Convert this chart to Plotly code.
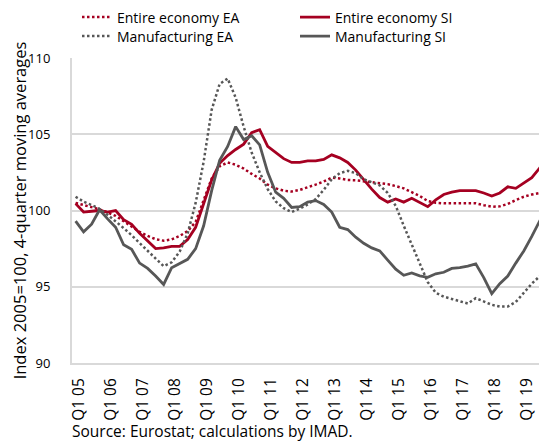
import plotly.graph_objects as go

# Quarterly categories Q1 2005 .. Q4 2019
years = list(range(2005, 2020))
quarters = [f"Q{q} {y % 100:02d}" for y in years for q in (1, 2, 3, 4)]
tick_labels = [f"Q1 {y % 100:02d}" for y in years]

entire_ea = [100.5, 100.35, 100.25, 100.08, 99.86, 99.65, 99.3, 98.95, 98.6, 98.33,
             98.12, 98.02, 98.1, 98.33, 98.65, 99.25, 100.7, 102.1, 102.9, 103.15,
             103.0, 102.75, 102.4, 102.1, 101.7, 101.45, 101.3, 101.24, 101.35, 101.5,
             101.7, 101.9, 102.15, 102.1, 102.0, 101.98, 101.92, 101.88, 101.82, 101.73,
             101.6, 101.45, 101.2, 100.95, 100.62, 100.5, 100.47, 100.47, 100.5, 100.5,
             100.47, 100.35, 100.25, 100.27, 100.43, 100.68, 100.9, 101.05, 101.17, 101.25]

entire_si = [100.45, 99.9, 99.95, 100.0, 99.9, 100.0, 99.4, 99.1, 98.5, 98.0,
             97.5, 97.55, 97.65, 97.65, 98.1, 98.9, 100.5, 102.0, 103.1, 103.6,
             104.0, 104.35, 105.1, 105.3, 104.2, 103.8, 103.4, 103.15, 103.15, 103.25,
             103.25, 103.35, 103.65, 103.45, 103.15, 102.65, 102.0, 101.4, 100.85, 100.55,
             100.75, 100.55, 100.8, 100.55, 100.25, 100.7, 101.05, 101.2, 101.3, 101.3,
             101.3, 101.15, 100.95, 101.15, 101.55, 101.45, 101.8, 102.15, 102.8, 103.4]

manuf_ea = [100.9, 100.58, 100.36, 100.1, 99.72, 99.3, 98.85, 98.38, 97.85, 97.32,
            96.85, 96.35, 96.6, 97.3, 98.5, 100.5, 103.2, 106.6, 108.3, 108.65,
            107.4, 105.5, 103.8, 102.5, 101.4, 100.6, 100.15, 99.9, 100.12, 100.4,
            100.75, 101.35, 102.05, 102.45, 102.6, 102.45, 102.05, 101.85, 101.65, 101.15,
            100.3, 99.0, 97.8, 96.6, 95.3, 94.6, 94.35, 94.2, 94.05, 93.9,
            94.25, 94.05, 93.82, 93.7, 93.7, 94.0, 94.6, 95.2, 95.7, 96.15]

manuf_si = [99.3, 98.6, 99.1, 100.05, 99.45, 98.9, 97.75, 97.45, 96.55, 96.2,
            95.7, 95.15, 96.25, 96.5, 96.8, 97.5, 99.0, 101.3, 103.3, 104.2,
            105.5, 104.65, 104.9, 104.3, 102.5, 101.2, 100.8, 100.2, 100.25, 100.55,
            100.65, 100.4, 99.9, 98.9, 98.75, 98.25, 97.85, 97.55, 97.35, 96.75,
            96.15, 95.75, 95.9, 95.72, 95.62, 95.85, 95.95, 96.2, 96.25, 96.35,
            96.5, 95.6, 94.55, 95.2, 95.7, 96.55, 97.35, 98.3, 99.33, 99.85]

RED = "#A50021"
GRAY = "#575757"
FONT = "Open Sans"
BLACK = "#000000"

# the page body adds an 8px margin; the layout below compensates for it
W, H = 547, 442
fig = go.Figure()
fig.add_trace(go.Scatter(x=quarters, y=entire_ea, name="Entire economy EA", mode="lines",
                         legend="legend",
                         line=dict(color=RED, width=2.5, dash="2.5px,2.5px")))
fig.add_trace(go.Scatter(x=quarters, y=entire_si, name="Entire economy SI", mode="lines",
                         legend="legend",
                         line=dict(color=RED, width=2.8)))
fig.add_trace(go.Scatter(x=quarters, y=manuf_ea, name="Manufacturing EA", mode="lines",
                         legend="legend2",
                         line=dict(color=GRAY, width=2.5, dash="2.5px,2.5px")))
fig.add_trace(go.Scatter(x=quarters, y=manuf_si, name="Manufacturing SI", mode="lines",
                         legend="legend2",
                         line=dict(color=GRAY, width=2.8)))

legend_common = dict(orientation="h", xref="container", yref="container",
                     x=69 / W, xanchor="left", yanchor="middle",
                     entrywidth=173, bgcolor="rgba(0,0,0,0)",
                     font=dict(family=FONT, size=14, color=BLACK))

fig.update_layout(
    width=W, height=H,
    margin=dict(l=64, r=8, t=50, b=87, autoexpand=False),
    paper_bgcolor="white", plot_bgcolor="white",
    font=dict(family=FONT, size=14, color=BLACK),
    showlegend=True,
    legend=dict(legend_common, y=1 - 9.5 / H),
    legend2=dict(legend_common, y=1 - 28.5 / H),
    annotations=[dict(text="Source: Eurostat; calculations by IMAD.",
                      xref="paper", yref="paper", x=-2 / 475, y=-(423 - 355) / 305,
                      xanchor="left", yanchor="middle", showarrow=False,
                      font=dict(family=FONT, size=15.5, color=BLACK))],
)

fig.update_xaxes(type="category", range=[-0.45, 58.9], automargin=False,
                 tickmode="array", tickvals=[f"Q1 {y % 100:02d}" for y in years],
                 ticktext=tick_labels, tickangle=-90, ticks="",
                 ticklabelstandoff=7, ticklabelshift=3,
                 showgrid=False, showline=True, linecolor="#D9D9D9", linewidth=2,
                 tickfont=dict(family=FONT, size=15.5, color=BLACK))
fig.update_yaxes(range=[90, 110], dtick=5, tick0=90, showgrid=True, automargin=False,
                 gridcolor="#D9D9D9", gridwidth=1.5, zeroline=False,
                 showline=True, linecolor="#D9D9D9", linewidth=2, ticks="",
                 ticklabelstandoff=17,
                 title=dict(text="Index 2005=100, 4-quarter moving averages",
                            standoff=2, font=dict(family=FONT, size=16.5, color=BLACK)),
                 tickfont=dict(family=FONT, size=13, color=BLACK))

fig.write_html("out.html")
